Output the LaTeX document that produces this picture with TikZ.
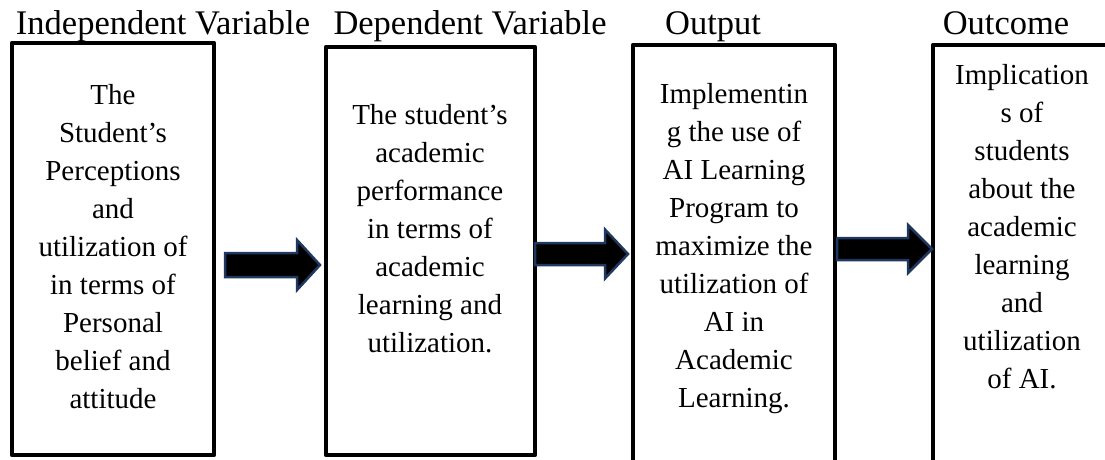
\documentclass[tikz,border=0pt]{standalone}
\usepackage{fontspec}
\setmainfont{Liberation Serif}
\usetikzlibrary{positioning}

\definecolor{arrowblue}{RGB}{31,56,96}

\begin{document}
\begin{tikzpicture}
  [x=1pt,y=-1pt,
   head/.style={font=\fontsize{34.5}{40}\selectfont,inner sep=0pt,anchor=base},
   boxtext/.style={font=\fontsize{29}{38}\selectfont,align=center,inner sep=0pt},
   frame/.style={line width=4.5pt,line join=round},
   fatarrow/.style={draw=arrowblue,fill=black,line width=2.5pt}]
  \useasboundingbox (0,0) rectangle (1105,460);

  % headings
  \node[head] (hind) at (163,35)  {Independent Variable};
  \node[head] (hdep) at (470,35)  {Dependent Variable};
  \node[head] (hout) at (713,35)  {Output};
  \node[head] (hres) at (1006,35) {Outcome};

  % frames, the last two are open at the bottom
  \draw[frame] (12,43) rectangle (214,455);
  \draw[frame] (326,47) rectangle (535,455);
  \draw[frame] (633,462) |- (835,45) -- (835,462);
  \draw[frame] (933,462) |- (1107,45);

  \node[boxtext] (ind) at (113,247)
    {The\\Student’s\\Perceptions\\and\\utilization of\\in terms of\\Personal\\belief and\\attitude};
  \node[boxtext] (dep) at (430,229)
    {The student’s\\academic\\performance\\in terms of\\academic\\learning and\\utilization.};
  \node[boxtext] (out) at (734,249)
    {Implementin\\g the use of\\AI Learning\\Program to\\maximize the\\utilization of\\AI in\\Academic\\Learning.};
  \node[boxtext] (res) at (1022,227)
    {Implication\\s of\\students\\about the\\academic\\learning\\and\\utilization\\of AI.};

  % block arrows: tail x / head x / tip x / mid y / shaft / head half width
  \foreach \xa/\xh/\xb/\yc/\s/\h in {225/297/320/265/12/25,
                                     535/605/628/254/11/24.5,
                                     837/908/932/249/11/24}
    \draw[fatarrow] (\xa,\yc-\s) -- (\xh,\yc-\s) -- (\xh,\yc-\h) -- (\xb,\yc)
      -- (\xh,\yc+\h) -- (\xh,\yc+\s) -- (\xa,\yc+\s) -- cycle;

\end{tikzpicture}
\end{document}
